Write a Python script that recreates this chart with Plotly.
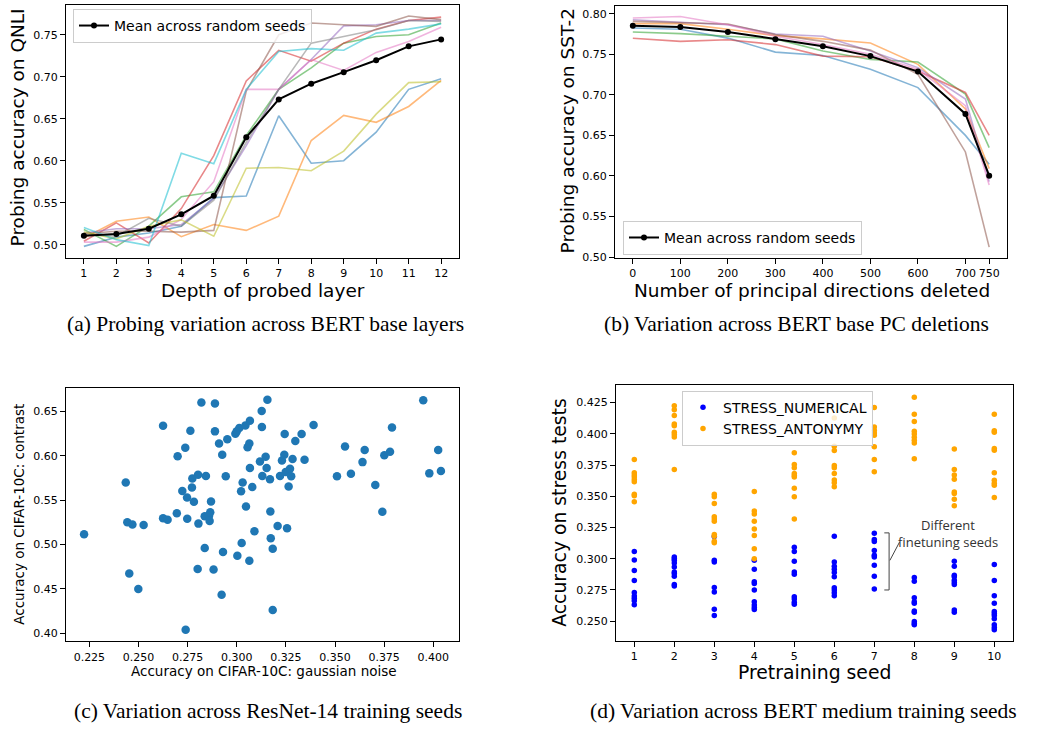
import plotly.graph_objects as go

W, H = 1043, 730

# ---------------- Panel (a) data ----------------
layers = list(range(1, 13))
qnli_seeds = [
    [0.498, 0.509, 0.514, 0.522, 0.556, 0.558, 0.6535, 0.597, 0.600, 0.634, 0.685, 0.6976],
    [0.508, 0.528, 0.533, 0.5095, 0.524, 0.517, 0.534, 0.624, 0.654, 0.6457, 0.6646, 0.6957],
    [0.518, 0.498, 0.522, 0.557, 0.563, 0.630, 0.685, 0.7106, 0.740, 0.748, 0.750, 0.764],
    [0.504, 0.526, 0.502, 0.543, 0.606, 0.695, 0.7315, 0.7185, 0.740, 0.7567, 0.767, 0.771],
    [0.514, 0.519, 0.519, 0.524, 0.555, 0.618, 0.685, 0.7205, 0.7606, 0.762, 0.767, 0.767],
    [0.513, 0.516, 0.516, 0.515, 0.517, 0.683, 0.750, 0.764, 0.762, 0.760, 0.7724, 0.768],
    [0.503, 0.503, 0.509, 0.530, 0.575, 0.685, 0.685, 0.7205, 0.7075, 0.729, 0.742, 0.759],
    [0.512, 0.510, 0.5315, 0.522, 0.553, 0.622, 0.685, 0.740, 0.748, 0.756, 0.767, 0.766],
    [0.515, 0.507, 0.522, 0.5295, 0.510, 0.591, 0.592, 0.588, 0.6114, 0.6555, 0.693, 0.694],
    [0.5205, 0.506, 0.499, 0.609, 0.5965, 0.685, 0.730, 0.7335, 0.7315, 0.752, 0.7567, 0.763],
]
qnli_mean = [0.5106, 0.5126, 0.519, 0.5362, 0.5583, 0.628, 0.673, 0.6917, 0.7055, 0.7197, 0.7362, 0.7445]

# ---------------- Panel (b) data ----------------
pc_deleted = [0, 100, 200, 300, 400, 500, 600, 700, 750]
sst_seeds = [
    [0.7825, 0.781, 0.770, 0.7527, 0.7486, 0.7315, 0.709, 0.650, 0.6145],
    [0.7878, 0.7878, 0.781, 0.773, 0.769, 0.764, 0.7376, 0.6826, 0.609],
    [0.7776, 0.7755, 0.7723, 0.769, 0.754, 0.7437, 0.7405, 0.701, 0.635],
    [0.7698, 0.766, 0.768, 0.762, 0.7478, 0.747, 0.7295, 0.703, 0.650],
    [0.7927, 0.790, 0.7865, 0.775, 0.7723, 0.754, 0.7336, 0.6948, 0.593],
    [0.7906, 0.7886, 0.7874, 0.7743, 0.766, 0.7552, 0.7254, 0.6296, 0.5122],
    [0.7947, 0.7967, 0.7865, 0.7723, 0.762, 0.750, 0.7315, 0.6867, 0.5889],
]
sst_mean = [0.7853, 0.7837, 0.7776, 0.7686, 0.760, 0.7478, 0.7287, 0.6765, 0.6003]

# ---------------- Panel (c) data ----------------
gauss_noise = [0.2223, 0.2435, 0.2443, 0.2469, 0.2453, 0.2499, 0.2526, 0.2625, 0.2625, 0.2648,
               0.2695, 0.2699, 0.2723, 0.2738, 0.2747, 0.2748, 0.2740, 0.2764, 0.2772, 0.2774,
               0.2782, 0.2803, 0.2805, 0.2801, 0.2820, 0.2837, 0.2837, 0.2843, 0.2859, 0.2862,
               0.2865, 0.2869, 0.2882, 0.2889, 0.2889, 0.2910, 0.2926, 0.2930, 0.2923, 0.2944,
               0.2952, 0.2993, 0.3000, 0.3013, 0.3003, 0.3022, 0.3025, 0.3030, 0.3044, 0.3047,
               0.3055, 0.3064, 0.3067, 0.3067, 0.3064, 0.3079, 0.3090, 0.3118, 0.3127, 0.3128,
               0.3130, 0.3147, 0.3152, 0.3156, 0.3169, 0.3171, 0.3173, 0.3183, 0.3183, 0.3208,
               0.3220, 0.3230, 0.3244, 0.3242, 0.3249, 0.3256, 0.3264, 0.3271, 0.3277, 0.3284,
               0.3298, 0.3330, 0.3345, 0.3391, 0.3510, 0.3551, 0.3581, 0.3640, 0.3651, 0.3705,
               0.3741, 0.3751, 0.3780, 0.3790, 0.3949, 0.3980, 0.4025, 0.4039]
contrast = [0.5116, 0.5698, 0.5250, 0.5224, 0.4672, 0.4496, 0.5220, 0.6340, 0.5295, 0.5280,
            0.5351, 0.5996, 0.5604, 0.6090, 0.5530, 0.5290, 0.4037, 0.6284, 0.5642, 0.5743,
            0.5481, 0.5787, 0.5235, 0.4724, 0.6601, 0.5317, 0.4959, 0.5772, 0.5325, 0.5265,
            0.5362, 0.5485, 0.4716, 0.6590, 0.6276, 0.6138, 0.6011, 0.4914, 0.4433, 0.5769,
            0.6187, 0.6250, 0.6276, 0.6313, 0.4873, 0.5601, 0.5015, 0.5698, 0.6343, 0.5429,
            0.6097, 0.6138, 0.6396, 0.5862, 0.4817, 0.5649, 0.5149, 0.5937, 0.6507, 0.6325,
            0.5772, 0.5989, 0.5862, 0.6634, 0.5735, 0.5373, 0.5071, 0.4951, 0.4261, 0.5209,
            0.5772, 0.5948, 0.6246, 0.6011, 0.5817, 0.5183, 0.5653, 0.5854, 0.5769, 0.5963,
            0.6168, 0.6246, 0.5955, 0.6347, 0.5769, 0.6104, 0.5799, 0.5929, 0.6067, 0.5672,
            0.5370, 0.6007, 0.6045, 0.6321, 0.6627, 0.5802, 0.6067, 0.5828]

# ---------------- Panel (d) data ----------------
pretrain_seeds = list(range(1, 11))
stress_numerical = [
    [0.3059, 0.2990, 0.2905, 0.2826, 0.2730, 0.2701, 0.2683, 0.2664, 0.2632],
    [0.3014, 0.3001, 0.2987, 0.2966, 0.2934, 0.2894, 0.2881, 0.2860, 0.2794, 0.2781],
    [0.3178, 0.2987, 0.2974, 0.2770, 0.2733, 0.2595, 0.2545],
    [0.2987, 0.2916, 0.2815, 0.2802, 0.2749, 0.2656, 0.2630, 0.2609, 0.2593],
    [0.3093, 0.3059, 0.2979, 0.2894, 0.2876, 0.2696, 0.2677, 0.2651, 0.2635],
    [0.3180, 0.2974, 0.2940, 0.2916, 0.2889, 0.2855, 0.2767, 0.2749, 0.2728, 0.2704],
    [0.3204, 0.3154, 0.3138, 0.3067, 0.3027, 0.3014, 0.2947, 0.2860, 0.2757],
    [0.2850, 0.2820, 0.2688, 0.2656, 0.2643, 0.2582, 0.2571, 0.2497, 0.2482, 0.2471],
    [0.2979, 0.2940, 0.2868, 0.2855, 0.2828, 0.2810, 0.2794, 0.2590, 0.2571],
    [0.2953, 0.2826, 0.2704, 0.2643, 0.2577, 0.2561, 0.2545, 0.2519, 0.2471, 0.2450, 0.2432],
]
stress_antonymy = [
    [0.3795, 0.3689, 0.3670, 0.3654, 0.3635, 0.3617, 0.3517, 0.3504, 0.3456],
    [0.4224, 0.4192, 0.4147, 0.4078, 0.4065, 0.4012, 0.3994, 0.3975, 0.3715],
    [0.3517, 0.3496, 0.3443, 0.3337, 0.3318, 0.3300, 0.3194, 0.3181, 0.3141, 0.3128],
    [0.3538, 0.3382, 0.3358, 0.3300, 0.3239, 0.3186, 0.3080, 0.3000],
    [0.3848, 0.3755, 0.3728, 0.3683, 0.3667, 0.3654, 0.3564, 0.3496, 0.3318],
    [0.4126, 0.3901, 0.3866, 0.3747, 0.3728, 0.3683, 0.3630, 0.3609, 0.3577],
    [0.4210, 0.4054, 0.4028, 0.4006, 0.3988, 0.3896, 0.3795, 0.3697],
    [0.4292, 0.4157, 0.4099, 0.4020, 0.3999, 0.3972, 0.3948, 0.3927, 0.3800],
    [0.3879, 0.3715, 0.3670, 0.3636, 0.3535, 0.3522, 0.3477, 0.3424],
    [0.4157, 0.4025, 0.4012, 0.3882, 0.3869, 0.3689, 0.3628, 0.3604, 0.3588, 0.3490],
]

TAB10 = ["#1f77b4", "#ff7f0e", "#2ca02c", "#d62728", "#9467bd",
         "#8c564b", "#e377c2", "#7f7f7f", "#bcbd22", "#17becf"]


def rgba(hexc, a):
    h = hexc.lstrip("#")
    return "rgba(%d,%d,%d,%.2f)" % (int(h[0:2], 16), int(h[2:4], 16), int(h[4:6], 16), a)


def px_x(px):
    return px / W


def px_y(py):
    return 1 - py / H


fig = go.Figure()

# Panel (a)
for i, ys in enumerate(qnli_seeds):
    fig.add_trace(go.Scatter(x=layers, y=ys, mode="lines", xaxis="x", yaxis="y",
                             line=dict(color=rgba(TAB10[i], 0.55), width=1.6),
                             showlegend=False, hoverinfo="skip"))
fig.add_trace(go.Scatter(x=layers, y=qnli_mean, mode="lines+markers", xaxis="x", yaxis="y",
                         name="Mean across random seeds", legend="legend",
                         line=dict(color="black", width=2), marker=dict(size=6, color="black")))

# Panel (b)
for i, ys in enumerate(sst_seeds):
    fig.add_trace(go.Scatter(x=pc_deleted, y=ys, mode="lines", xaxis="x2", yaxis="y2",
                             line=dict(color=rgba(TAB10[i], 0.55), width=1.6),
                             showlegend=False, hoverinfo="skip"))
fig.add_trace(go.Scatter(x=pc_deleted, y=sst_mean, mode="lines+markers", xaxis="x2", yaxis="y2",
                         name="Mean across random seeds", legend="legend2",
                         line=dict(color="black", width=2), marker=dict(size=6, color="black")))

# Panel (c)
fig.add_trace(go.Scatter(x=gauss_noise, y=contrast, mode="markers", xaxis="x3", yaxis="y3",
                         marker=dict(size=8.5, color="#1f77b4"), showlegend=False))

# Panel (d)
num_x, num_y, ant_x, ant_y = [], [], [], []
for s, vals in zip(pretrain_seeds, stress_numerical):
    num_x += [s] * len(vals)
    num_y += vals
for s, vals in zip(pretrain_seeds, stress_antonymy):
    ant_x += [s] * len(vals)
    ant_y += vals
fig.add_trace(go.Scatter(x=num_x, y=num_y, mode="markers", xaxis="x4", yaxis="y4",
                         name="STRESS_NUMERICAL", legend="legend3",
                         marker=dict(size=5.5, color="blue")))
fig.add_trace(go.Scatter(x=ant_x, y=ant_y, mode="markers", xaxis="x4", yaxis="y4",
                         name="STRESS_ANTONYMY", legend="legend3",
                         marker=dict(size=5.5, color="orange")))

TICKFONT = dict(family="DejaVu Sans", size=11, color="black")


def axis(domain, rng, anchor, **kw):
    d = dict(domain=domain, range=rng, anchor=anchor, showline=True, mirror=True,
             linecolor="black", linewidth=1, ticks="outside", ticklen=5, tickcolor="black",
             tickwidth=1, showgrid=False, zeroline=False, tickfont=TICKFONT)
    d.update(kw)
    return d


LEGFONT = dict(family="DejaVu Sans", size=14, color="black")

fig.update_layout(
    width=W, height=H, margin=dict(l=0, r=0, t=0, b=0),
    paper_bgcolor="white", plot_bgcolor="white",
    font=dict(family="DejaVu Sans", color="black"),
    xaxis=axis([px_x(66), px_x(459)], [0.45, 12.55], "y", tickvals=layers),
    yaxis=axis([px_y(260), px_y(5)], [0.4843, 0.7855], "x",
               tickvals=[0.50, 0.55, 0.60, 0.65, 0.70, 0.75], tickformat=".2f"),
    xaxis2=axis([px_x(615), px_x(1007)], [-37.5, 787.5], "y2", tickvals=pc_deleted),
    yaxis2=axis([px_y(260), px_y(5.7)], [0.499, 0.810], "x2",
                tickvals=[0.50, 0.55, 0.60, 0.65, 0.70, 0.75, 0.80], tickformat=".2f"),
    xaxis3=axis([px_x(66), px_x(459)], [0.2131, 0.4131], "y3",
                tickvals=[0.225, 0.25, 0.275, 0.3, 0.325, 0.35, 0.375, 0.4], tickformat=".3f"),
    yaxis3=axis([px_y(646.7), px_y(391.7)], [0.3906, 0.676], "x3",
                tickvals=[0.40, 0.45, 0.50, 0.55, 0.60, 0.65], tickformat=".2f"),
    xaxis4=axis([px_x(616), px_x(1012.7)], [0.5425, 10.46], "y4", tickvals=pretrain_seeds),
    yaxis4=axis([px_y(646), px_y(388.3)], [0.2344, 0.439], "x4",
                tickvals=[0.250, 0.275, 0.300, 0.325, 0.350, 0.375, 0.400, 0.425], tickformat=".3f"),
    legend=dict(x=px_x(73), y=px_y(9), xanchor="left", yanchor="top",
                bgcolor="rgba(255,255,255,0.8)", bordercolor="#cccccc", borderwidth=1,
                font=LEGFONT),
    legend2=dict(x=px_x(623), y=px_y(257), xanchor="left", yanchor="bottom",
                 bgcolor="rgba(255,255,255,0.8)", bordercolor="#cccccc", borderwidth=1,
                 font=LEGFONT),
    legend3=dict(x=px_x(682), y=px_y(394), xanchor="left", yanchor="top",
                 bgcolor="rgba(255,255,255,0.8)", bordercolor="#cccccc", borderwidth=1,
                 font=LEGFONT),
)

# Axis titles
TITLES = [
    ("Depth of probed layer", 262.5, 292.5, 0, 18.5),
    ("Probing accuracy on QNLI", 17.5, 129, -90, 18.5),
    ("Number of principal directions deleted", 811.5, 292.5, 0, 18.5),
    ("Probing accuracy on SST-2", 567.5, 132, -90, 18.5),
    ("Accuracy on CIFAR-10C: gaussian noise", 263.5, 677, 0, 13.5),
    ("Accuracy on CIFAR-10C: contrast", 19, 519, -90, 13.5),
    ("Pretraining seed", 814.5, 678.5, 0, 18.8),
    ("Accuracy on stress tests", 559.5, 517.5, -90, 18.8),
]
for txt, x, y, ang, sz in TITLES:
    fig.add_annotation(text=txt, x=px_x(x), y=px_y(y), xref="paper", yref="paper",
                       xanchor="center", yanchor="middle", textangle=ang, showarrow=False,
                       font=dict(family="DejaVu Sans", size=sz, color="black"))

# Captions
CAPTIONS = [
    ("(a) Probing variation across BERT base layers", 265, 327),
    ("(b) Variation across BERT base PC deletions", 796, 327),
    ("(c) Variation across ResNet-14 training seeds", 268, 717),
    ("(d) Variation across BERT medium training seeds", 803, 717),
]
for txt, x, y in CAPTIONS:
    fig.add_annotation(text=txt, x=px_x(x), y=px_y(y), xref="paper", yref="paper",
                       xanchor="center", yanchor="middle", showarrow=False,
                       font=dict(family="Liberation Serif", size=21.5, color="black"))

# Panel (d) bracket annotation
BR_X, BR_X0, BR_Y0, BR_Y1 = 7.37, 7.25, 0.275, 0.3207
brk = dict(color="#444444", width=1)
fig.add_shape(type="line", xref="x4", yref="y4", x0=BR_X, x1=BR_X, y0=BR_Y0, y1=BR_Y1, line=brk)
fig.add_shape(type="line", xref="x4", yref="y4", x0=BR_X0, x1=BR_X, y0=BR_Y0, y1=BR_Y0, line=brk)
fig.add_shape(type="line", xref="x4", yref="y4", x0=BR_X0, x1=BR_X, y0=BR_Y1, y1=BR_Y1, line=brk)
fig.add_shape(type="line", xref="x4", yref="y4", x0=7.39, x1=7.63, y0=0.2987, y1=0.3133, line=brk)
fig.add_annotation(text="Different", x=8.85, y=0.3272, xref="x4", yref="y4", showarrow=False,
                   xanchor="center", yanchor="middle",
                   font=dict(family="Open Sans", size=13, color="#333333"))
fig.add_annotation(text="finetuning seeds", x=8.85, y=0.3137, xref="x4", yref="y4", showarrow=False,
                   xanchor="center", yanchor="middle",
                   font=dict(family="Open Sans", size=13, color="#333333"))

fig.write_html("out.html", config={"displayModeBar": False},
               post_script="document.body.style.margin='0';document.body.style.overflow='hidden';")
